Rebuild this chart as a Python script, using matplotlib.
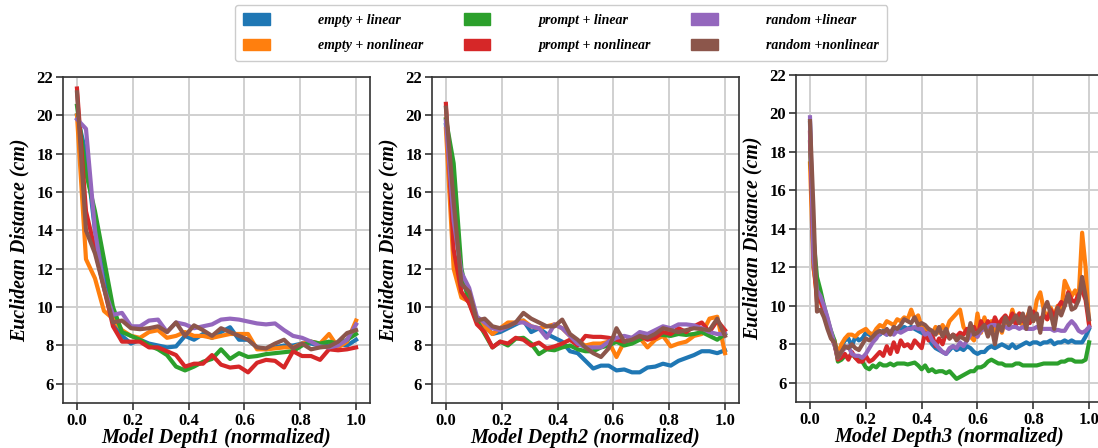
import numpy as np
import matplotlib
matplotlib.use("Agg")
import matplotlib.pyplot as plt
from matplotlib.patches import Patch

plt.rcParams["font.family"] = ["Liberation Serif", "DejaVu Serif"]
plt.rcParams["font.weight"] = "bold"

labels = ["empty + linear", "empty + nonlinear", "prompt + linear",
          "prompt + nonlinear", "random +linear", "random +nonlinear"]
colors = ["#1f77b4", "#ff7f0e", "#2ca02c", "#d62728", "#9467bd", "#8c564b"]

# depth 1
d1_empty_lin = [20.0, 18.0, 14.0, 11.5, 9.4, 8.5, 8.1, 8.3, 8.1, 8.0, 7.9, 7.95, 8.5, 8.3, 8.6, 8.4,
                8.7, 8.95, 8.3, 8.3, 7.9, 7.8, 7.9, 8.0, 8.0, 8.1, 8.1, 8.0, 8.0, 8.1, 8.0, 8.3]
d1_empty_non = [20.0, 12.5, 11.5, 9.8, 9.4, 8.8, 8.5, 8.4, 8.7, 8.8, 8.4, 8.5, 8.7, 8.5, 8.5, 8.4,
                8.5, 8.6, 8.6, 8.6, 7.8, 7.8, 7.85, 7.9, 7.9, 8.1, 8.2, 8.1, 8.6, 7.9, 8.2, 9.3]
d1_prompt_lin = [20.5, 17.0, 15.0, 12.5, 10.0, 8.7, 8.5, 8.3, 8.0, 7.8, 7.5, 6.9, 6.7, 6.9, 7.15, 7.3,
                 7.8, 7.3, 7.6, 7.4, 7.45, 7.55, 7.6, 7.65, 7.7, 8.0, 8.2, 8.1, 8.2, 8.1, 8.3, 8.6]
d1_prompt_non = [21.4, 15.0, 13.0, 11.0, 9.0, 8.2, 8.2, 8.2, 7.9, 7.9, 7.7, 7.5, 6.9, 7.05, 7.05, 7.5,
                 7.0, 6.85, 6.9, 6.6, 7.1, 7.25, 7.2, 6.85, 7.7, 7.45, 7.45, 7.25, 7.8, 7.75, 7.8, 7.9]
d1_random_lin = [19.8, 19.3, 14.0, 11.0, 9.6, 9.7, 9.0, 9.0, 9.3, 9.35, 8.7, 9.2, 9.1, 8.9, 9.0, 9.1,
                 9.35, 9.4, 9.35, 9.25, 9.15, 9.1, 9.15, 8.8, 8.5, 8.4, 8.2, 7.95, 7.9, 8.0, 8.3, 9.1]
d1_random_non = [21.2, 14.0, 12.8, 11.0, 9.2, 9.3, 8.9, 8.85, 8.9, 9.0, 8.7, 9.2, 8.5, 9.05, 8.8, 8.5,
                 8.9, 8.7, 8.5, 8.3, 7.9, 7.85, 8.1, 8.3, 7.85, 8.1, 7.8, 7.9, 7.95, 8.2, 8.65, 8.8]

# depth 2
d2_empty_lin = [19.5, 16.0, 11.5, 10.5, 9.3, 9.0, 8.6, 8.7, 8.9, 9.1, 9.3, 8.7, 8.9, 8.6, 8.4, 8.2,
                7.7, 7.6, 7.2, 6.8, 6.95, 6.95, 6.7, 6.75, 6.6, 6.6, 6.85, 6.9, 7.05, 6.95, 7.2,
                7.35, 7.5, 7.7, 7.7, 7.6, 7.75]
d2_empty_non = [19.3, 12.0, 10.5, 10.3, 9.3, 9.0, 8.6, 8.9, 9.2, 9.2, 9.3, 9.0, 8.9, 9.0, 9.1, 8.9,
                8.5, 8.2, 8.0, 8.1, 8.1, 8.2, 7.4, 8.2, 8.3, 8.4, 7.9, 8.3, 8.5, 7.95, 8.1,
                8.2, 8.5, 8.6, 9.4, 9.5, 7.6]
d2_prompt_lin = [19.8, 17.5, 12.0, 10.2, 9.3, 8.6, 7.9, 8.2, 8.0, 8.35, 8.4, 8.1, 7.55, 7.8, 7.75, 7.9,
                 8.0, 7.8, 7.7, 7.7, 7.9, 8.0, 8.2, 8.0, 8.1, 8.3, 8.5, 8.6, 8.55, 8.5, 8.6,
                 8.55, 8.6, 8.7, 8.5, 8.3, 8.6]
d2_prompt_non = [20.6, 13.0, 10.8, 10.2, 9.1, 8.7, 7.9, 8.2, 8.1, 8.4, 8.3, 8.0, 8.15, 7.85, 7.95, 8.1,
                 8.3, 8.0, 8.5, 8.45, 8.45, 8.4, 8.3, 8.2, 8.4, 8.5, 8.3, 8.4, 8.7, 8.6, 8.9,
                 8.7, 9.0, 9.2, 8.7, 9.3, 8.8]
d2_random_lin = [19.7, 14.5, 11.8, 11.0, 9.5, 9.2, 8.9, 8.8, 9.0, 9.2, 9.2, 9.0, 8.9, 8.4, 9.1, 8.9,
                 8.5, 8.1, 7.9, 7.9, 7.9, 8.2, 8.4, 8.5, 8.4, 8.7, 8.6, 8.8, 9.0, 8.9, 9.1,
                 9.1, 9.05, 8.9, 8.7, 8.6, 8.6]
d2_random_non = [20.4, 15.5, 11.2, 10.8, 9.3, 9.4, 9.0, 8.9, 9.0, 9.2, 9.7, 9.4, 9.2, 9.0, 9.0, 9.35,
                 8.6, 8.3, 7.9, 7.6, 7.4, 7.85, 8.9, 8.2, 8.3, 8.5, 8.4, 8.6, 8.9, 8.8, 8.7,
                 8.8, 8.9, 8.85, 8.8, 9.4, 8.5]

# depth 3
d3_empty_lin = [19.5, 12.0, 10.8, 10.3, 9.8, 9.0, 8.6, 8.0, 7.4, 7.9,
                8.2, 8.3, 7.9, 8.4, 8.2, 8.3, 8.6, 8.5, 8.4, 8.6,
                8.5, 8.7, 8.5, 8.6, 8.7, 8.8, 8.7, 8.9, 8.8, 8.9,
                8.8, 8.7, 8.6, 8.5, 8.3, 8.0, 7.8, 7.7, 7.6, 7.5,
                7.7, 7.9, 7.7, 7.8, 7.7, 7.9, 7.8, 7.6, 7.5, 7.6,
                7.6, 7.8, 7.9, 7.8, 7.9, 8.0, 7.9, 7.8, 8.0, 7.8,
                7.9, 8.0, 8.1, 8.0, 8.1, 8.1, 8.0, 8.1, 8.1, 8.2,
                8.0, 8.1, 8.1, 8.2, 8.1, 8.2, 8.1, 8.1, 8.1, 8.4,
                8.8]
d3_empty_non = [17.4, 12.0, 10.5, 10.2, 9.8, 9.3, 8.5, 8.2, 7.5, 8.0,
                8.3, 8.5, 8.5, 8.4, 8.6, 8.7, 8.8, 8.6, 8.5, 8.8,
                9.0, 8.9, 9.2, 9.1, 9.0, 9.3, 9.2, 9.4, 9.3, 9.8,
                9.3, 9.5, 8.9, 8.7, 8.8, 8.5, 8.9, 8.6, 9.0, 8.7,
                9.2, 9.4, 9.6, 9.8, 8.9, 8.6, 8.4, 8.2, 9.6, 8.6,
                9.4, 8.8, 9.2, 8.7, 9.1, 8.6, 9.3, 9.0, 9.8, 9.1,
                9.6, 8.9, 9.3, 9.8, 9.2, 10.3, 10.7, 9.8, 9.3, 9.9,
                9.5, 10.0, 9.7, 11.3, 10.9, 10.5, 10.8, 10.4, 13.8, 12.0,
                9.0]
d3_prompt_lin = [18.5, 13.5, 11.5, 10.8, 10.0, 9.3, 8.7, 8.2, 7.1, 7.2,
                 7.4, 7.3, 7.5, 7.3, 7.2, 7.1, 6.8, 6.7, 6.9, 6.8,
                 7.0, 6.9, 6.9, 7.0, 6.9, 7.0, 7.0, 7.0, 6.95, 7.0,
                 7.05, 6.9, 6.7, 6.9, 6.6, 6.7, 6.55, 6.6, 6.6, 6.5,
                 6.6, 6.4, 6.2, 6.3, 6.4, 6.5, 6.6, 6.6, 6.8, 6.8,
                 6.9, 7.1, 7.2, 7.1, 7.0, 7.0, 6.9, 6.9, 6.9, 7.0,
                 7.0, 6.9, 6.9, 6.9, 6.9, 6.9, 6.95, 7.0, 7.0, 7.0,
                 7.0, 7.0, 7.1, 7.1, 7.2, 7.2, 7.1, 7.1, 7.1, 7.2,
                 8.1]
d3_prompt_non = [19.0, 12.5, 10.2, 10.3, 9.7, 9.0, 8.4, 8.0, 7.2, 7.3,
                 7.5, 7.2, 7.6, 7.3, 7.1, 7.1, 7.4, 7.1, 7.2, 7.4,
                 7.6, 7.4, 7.9, 7.5, 8.1, 7.6, 8.2, 7.9, 8.0, 7.8,
                 8.2, 8.0, 7.8, 8.6, 8.2, 8.5, 7.9, 8.3, 8.0, 8.6,
                 8.3, 8.5, 8.4, 8.6, 8.5, 8.8, 8.5, 8.9, 8.4, 9.2,
                 8.8, 9.2, 8.8, 9.4, 9.0, 9.3, 9.5, 9.2, 9.6, 9.0,
                 9.6, 9.2, 9.4, 9.1, 9.7, 9.4, 9.3, 9.5, 9.3, 9.8,
                 9.4, 9.9, 10.2, 10.0, 10.7, 10.3, 10.2, 10.6, 10.8, 10.3,
                 9.0]
d3_random_lin = [19.8, 12.5, 10.8, 10.5, 10.0, 9.4, 8.7, 8.0, 7.3, 7.6,
                 7.8, 7.9, 7.5, 7.4, 7.4, 7.3, 7.5, 7.8, 8.1, 8.3,
                 8.6, 8.6, 8.5, 8.7, 8.5, 8.7, 8.6, 8.7, 8.8, 8.8,
                 8.9, 8.8, 8.8, 8.5, 8.6, 8.2, 8.0, 7.8, 7.6, 7.5,
                 7.8, 7.9, 7.8, 8.1, 7.9, 8.2, 8.5, 8.6, 8.4, 8.7,
                 8.8, 8.9, 9.0, 9.0, 8.9, 8.9, 8.9, 8.8, 8.9, 8.9,
                 8.8, 8.9, 8.8, 8.8, 8.8, 8.9, 8.8, 8.8, 8.8, 8.8,
                 8.7, 8.75, 8.7, 8.7, 9.0, 9.2, 9.0, 8.7, 8.6, 8.7,
                 8.9]
d3_random_non = [19.6, 15.0, 9.7, 9.8, 9.4, 8.8, 8.3, 8.1, 7.3, 7.6,
                 7.9, 7.8, 8.0, 7.8, 7.7, 8.0, 8.3, 8.2, 8.4, 8.6,
                 8.7, 8.6, 8.8, 8.5, 8.9, 8.8, 9.0, 9.3, 9.2, 9.1,
                 9.4, 9.0, 9.1, 9.0, 8.8, 8.7, 8.5, 8.9, 8.4, 8.8,
                 8.3, 8.5, 8.2, 8.4, 8.3, 8.2, 9.1, 8.5, 8.6, 8.8,
                 9.0, 8.4, 8.9, 8.0, 9.0, 8.7, 9.4, 9.0, 9.2, 9.5,
                 9.1, 9.6, 8.8, 9.9, 9.2, 9.6, 8.6, 9.8, 10.2, 9.6,
                 8.8, 9.9, 9.5, 10.0, 10.6, 9.8, 9.9, 10.3, 11.5, 10.5,
                 9.3]

panels = [
    ("Model Depth1 (normalized)", [d1_empty_lin, d1_empty_non, d1_prompt_lin,
                                   d1_prompt_non, d1_random_lin, d1_random_non]),
    ("Model Depth2 (normalized)", [d2_empty_lin, d2_empty_non, d2_prompt_lin,
                                   d2_prompt_non, d2_random_lin, d2_random_non]),
    ("Model Depth3 (normalized)", [d3_empty_lin, d3_empty_non, d3_prompt_lin,
                                   d3_prompt_non, d3_random_lin, d3_random_non]),
]

fig = plt.figure(figsize=(10.98, 4.48), dpi=100)
positions = [[0.0574, 0.1004, 0.2796, 0.7277],
             [0.3934, 0.1004, 0.2796, 0.7277],
             [0.7250, 0.1027, 0.2796, 0.7300]]

for pos, (xlabel, series) in zip(positions, panels):
    ax = fig.add_axes(pos)
    for vals, c in zip(series, colors):
        x = np.linspace(0, 1, len(vals))
        ax.plot(x, vals, color=c, lw=3)
    ax.set_xlim(-0.05, 1.05)
    ax.set_ylim(5, 22)
    ax.set_xticks([0, 0.2, 0.4, 0.6, 0.8, 1.0])
    ax.set_yticks([6, 8, 10, 12, 14, 16, 18, 20, 22])
    ax.grid(True, color="#d0d0d0", lw=1.4)
    ax.set_axisbelow(True)
    for s in ax.spines.values():
        s.set_color("#333333")
        s.set_linewidth(1.2)
    ax.tick_params(direction="out", length=5, width=1.2, color="#333333",
                   labelsize=12, pad=2)
    for t in ax.get_xticklabels() + ax.get_yticklabels():
        t.set_fontweight("bold")
    ax.set_xlabel(xlabel, fontsize=14.5, fontstyle="italic", fontweight="bold", labelpad=-0.5)
    ax.set_ylabel("Euclidean Distance (cm)", fontsize=14.3, fontstyle="italic",
                  fontweight="bold", labelpad=5)

handles = [Patch(facecolor=c, edgecolor=c) for c in colors]
fig.legend(handles, labels, loc="upper center", bbox_to_anchor=(0.511, 0.995), ncol=3,
           prop={"style": "italic", "weight": "bold", "size": 10},
           handlelength=1.9, handleheight=0.9, handletextpad=3.5, columnspacing=2.9,
           labelspacing=0.85, borderpad=0.6, borderaxespad=0.2,
           edgecolor="#cccccc", framealpha=1)

fig.savefig("out.png", dpi=100)
